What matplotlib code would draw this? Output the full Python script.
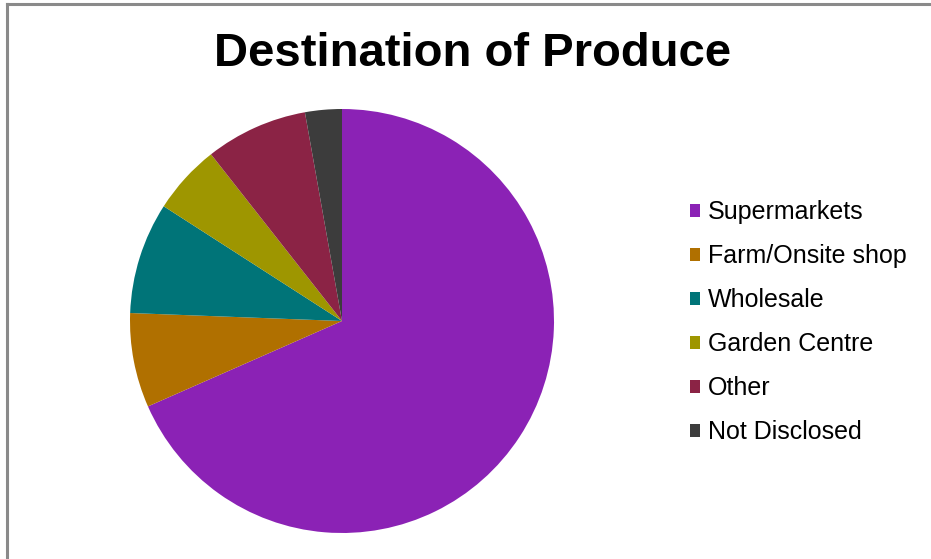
import matplotlib.pyplot as plt
from matplotlib.patches import Patch
from matplotlib.lines import Line2D

plt.rcParams['font.family'] = ['Liberation Sans', 'DejaVu Sans']

# data (percent)
categories = ['Supermarkets', 'Farm/Onsite shop', 'Wholesale', 'Garden Centre', 'Other', 'Not Disclosed']
shares = [68.4, 7.2, 8.5, 5.3, 7.8, 2.8]
colors = ['#8B22B5', '#B07000', '#007478', '#9E9600', '#8B2345', '#3C3C3C']

W, H = 931, 559
fig = plt.figure(figsize=(W / 100, H / 100), dpi=100)

# pie centred at about (342, 321) px with radius 212 px
cx, cy, r = 342, 321, 212
ax = fig.add_axes([(cx - r) / W, (H - cy - r) / H, 2 * r / W, 2 * r / H])
ax.pie(shares, colors=colors, startangle=90, counterclock=False,
       wedgeprops=dict(linewidth=0))
ax.set_xlim(-1, 1)
ax.set_ylim(-1, 1)
ax.set_aspect('auto')
ax.axis('off')

fig.text(473 / W, 1 - 54 / H, 'Destination of Produce', ha='center', va='center',
         fontsize=34, fontweight='bold')

handles = [Patch(facecolor=c, edgecolor='none') for c in colors]
fig.legend(handles, categories, loc='center left', bbox_to_anchor=(667 / W, 1 - 322 / H),
           frameon=False, fontsize=18, handlelength=0.42, handleheight=0.42,
           handletextpad=0.3, labelspacing=0.8)

# chart border (top and left edges visible)
fig.add_artist(Line2D([7 / W, 7 / W], [0, 1 - 3.5 / H], color='#8a8a8a', linewidth=2.2))
fig.add_artist(Line2D([7 / W, 1], [1 - 3.5 / H, 1 - 3.5 / H], color='#8a8a8a', linewidth=2.2))

fig.savefig('out.png', dpi=100)
